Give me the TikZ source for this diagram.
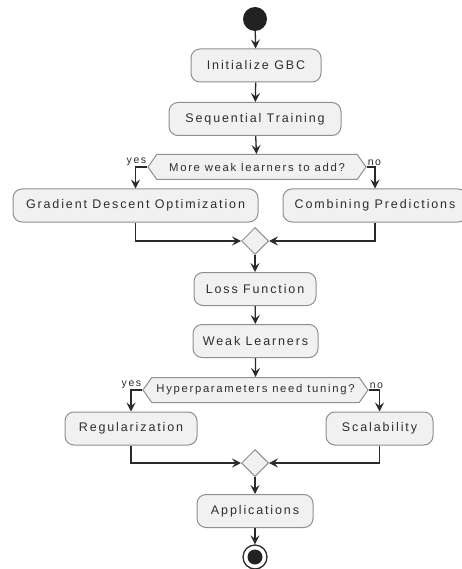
\documentclass[tikz,border=0pt]{standalone}
\usepackage{fontspec}
\setmainfont{Liberation Sans}[LetterSpace=15]
\usetikzlibrary{arrows.meta,shapes.symbols,shapes.geometric}
\definecolor{boxfill}{HTML}{F1F1F1}
\definecolor{boxline}{HTML}{909090}
\definecolor{textc}{HTML}{2E2E2E}
\definecolor{arrowc}{HTML}{2A2A2A}
\definecolor{startc}{HTML}{222222}
\tikzset{
  box/.style={draw=boxline, fill=boxfill, rounded corners=9pt, line width=1pt,
    text=textc, font=\fontsize{12.5}{14}\selectfont, minimum height=33pt, inner sep=0pt},
  hexa/.style={shape=signal, signal to=west and east, signal pointer angle=110,
    draw=boxline, fill=boxfill, line width=1pt, text=textc,
    font=\fontsize{11.3}{13}\selectfont, minimum height=25pt, inner sep=0pt},
  merge/.style={diamond, draw=boxline, fill=boxfill, minimum width=27pt,
    minimum height=27pt, inner sep=0pt, line width=1pt},
  flow/.style={draw=arrowc, line width=1.3pt, -{Stealth[length=9pt,width=9pt,inset=3.5pt]}},
  lbl/.style={text=textc, font=\fontsize{10.5}{11}\selectfont, inner sep=1pt}
}
\begin{document}
\begin{tikzpicture}[x=1pt,y=-1pt]
\useasboundingbox[fill=white] (0,0) rectangle (461,569);
\node[circle, fill=startc, minimum size=24pt, inner sep=0pt] (start) at (255,19) {};
\node[box, minimum width=130pt] (init) at (256,65.5) {Initialize GBC};
\node[box, minimum width=172pt] (seq) at (255,119) {Sequential Training};
\node[hexa, minimum width=218pt] (hex1) at (257,167) {More weak learners to add?};
\node[box, minimum width=245pt] (gdo) at (135.5,205.5) {Gradient Descent Optimization};
\node[box, minimum width=184pt] (comb) at (375,205.5) {Combining Predictions};
\node[merge] (m1) at (255,241) {};
\node[box, minimum width=122pt] (loss) at (255,289) {Loss Function};
\node[box, minimum width=125pt] (weak) at (255.5,341) {Weak Learners};
\node[hexa, minimum width=225pt] (hex2) at (255.5,390) {Hyperparameters need tuning?};
\node[box, minimum width=132pt] (reg) at (131,428.5) {Regularization};
\node[box, minimum width=107pt] (scal) at (379.5,428.5) {Scalability};
\node[merge] (m2) at (255,463) {};
\node[box, minimum width=116pt] (app) at (255,511) {Applications};
\node[circle, draw=arrowc, line width=1.3pt, fill=white, minimum size=24pt, inner sep=0pt] (end) at (255,557) {};
\node[circle, fill=startc, minimum size=15pt, inner sep=0pt] (endin) at (end.center) {};

\draw[flow] (start) -- (init);
\draw[flow] (init) -- (seq);
\draw[flow] (seq) -- (hex1);
\draw[flow] (hex1.west) -| (gdo.north);
\draw[flow] (hex1.east) -| (comb.north);
\node[lbl, anchor=south east] (y1) at (hex1.west) {yes};
\node[lbl, anchor=south west] (n1) at (hex1.east) {no};
\draw[flow] (gdo.south) |- (m1.west);
\draw[flow] (comb.south) |- (m1.east);
\draw[flow] (m1) -- (loss);
\draw[flow] (loss) -- (weak);
\draw[flow] (weak) -- (hex2);
\draw[flow] (hex2.west) -| (reg.north);
\draw[flow] (hex2.east) -| (scal.north);
\node[lbl, anchor=south east] (y2) at (hex2.west) {yes};
\node[lbl, anchor=south west] (n2) at (hex2.east) {no};
\draw[flow] (reg.south) |- (m2.west);
\draw[flow] (scal.south) |- (m2.east);
\draw[flow] (m2) -- (app);
\draw[flow] (app) -- (end);
\end{tikzpicture}
\end{document}
